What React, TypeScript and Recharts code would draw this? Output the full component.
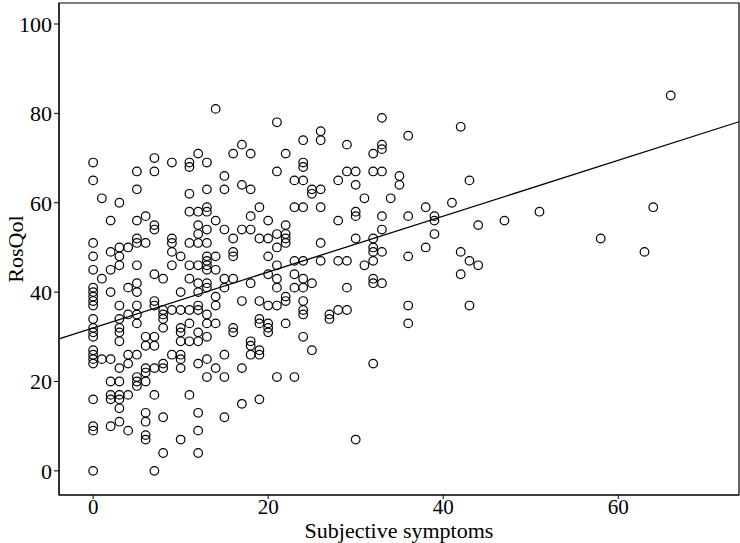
import React from "react";
import {
  ScatterChart, Scatter, XAxis, YAxis, ReferenceLine, ReferenceArea,
} from "recharts";

// subjective symptom score (x) and the RosQol values seen at that score
const scores = [
  0, 1, 2, 3, 4, 5, 6, 7, 8, 9, 10, 11, 12, 13, 14, 15, 16, 17, 18, 19, 20,
  21, 22, 23, 24, 25, 26, 27, 28, 29, 30, 31, 32, 33, 34, 35, 36, 38, 39, 41,
  42, 43, 44, 47, 51, 58, 63, 64, 66,
];
const rosqolByScore = [
  [69, 65, 51, 48, 45, 41, 40, 39, 38, 37, 34, 32, 31, 30, 27, 26, 25, 24, 16, 10, 9, 0],
  [61, 43, 25],
  [56, 49, 45, 40, 25, 20, 17, 16, 10],
  [60, 50, 48, 46, 37, 34, 32, 31, 29, 23, 20, 17, 16, 14, 11],
  [50, 41, 35, 26, 24, 17, 9],
  [67, 63, 56, 52, 51, 46, 42, 40, 37, 35, 33, 26, 21, 20, 19],
  [57, 51, 30, 28, 23, 22, 20, 13, 11, 8, 7],
  [70, 67, 55, 54, 44, 38, 37, 30, 28, 23, 17, 0],
  [43, 36, 35, 34, 32, 24, 23, 12, 4],
  [69, 52, 51, 49, 46, 36, 26],
  [48, 40, 36, 32, 31, 29, 26, 25, 23, 7],
  [69, 68, 62, 58, 51, 46, 43, 36, 33, 29, 17],
  [71, 58, 55, 53, 51, 46, 42, 40, 37, 36, 31, 29, 24, 13, 9, 4],
  [69, 63, 59, 58, 54, 51, 48, 47, 46, 45, 42, 41, 35, 33, 30, 25, 21],
  [81, 56, 48, 45, 39, 37, 33, 23],
  [66, 63, 54, 43, 41, 26, 21, 12],
  [71, 52, 49, 48, 43, 32, 31],
  [73, 64, 54, 38, 23, 15],
  [71, 63, 57, 54, 42, 29, 28, 26],
  [59, 52, 38, 34, 33, 27, 26, 16],
  [56, 52, 48, 44, 37, 33, 32, 31],
  [78, 67, 53, 50, 46, 43, 41, 37, 21],
  [71, 55, 53, 52, 51, 39, 38, 33],
  [65, 59, 47, 44, 41, 21],
  [74, 69, 68, 65, 59, 47, 43, 41, 38, 36, 35, 30],
  [63, 62, 42, 27],
  [76, 74, 63, 59, 51, 47],
  [35, 34],
  [65, 56, 47, 36],
  [73, 67, 47, 41, 36],
  [67, 64, 58, 57, 52, 7],
  [61, 46],
  [71, 67, 52, 50, 49, 47, 43, 42, 24],
  [79, 73, 72, 67, 57, 54, 49, 42],
  [61],
  [66, 64],
  [75, 57, 48, 37, 33],
  [59, 50],
  [57, 56, 53],
  [60],
  [77, 49, 44],
  [65, 47, 37],
  [55, 46],
  [56],
  [58],
  [52],
  [49],
  [59],
  [84],
];

const xTicks = [0, 20, 40, 60];
const yTicks = [0, 20, 40, 60, 80, 100];
const xDomain = [-3.9, 73.8];
const yDomain = [-5.4, 104.7];
// fit line
const fitIntercept = 32;
const fitSlope = 0.625;

const points = scores.flatMap((s, i) => rosqolByScore[i].map((v) => ({ x: s, y: v })));

const FONT = "Liberation Serif, serif";
const tickFont = { fill: "#000", fontSize: 22, fontFamily: FONT };

const Ring = (props: any) => {
  const { cx, cy } = props;
  if (cx == null || cy == null) return null;
  return <circle cx={cx} cy={cy} r={4.3} fill="none" stroke="#000" strokeWidth={1.2} />;
};

const xTitle = () => (
  <text x={399} y={538} textAnchor="middle" fontSize={22} fontFamily={FONT} fill="#000">
    Subjective symptoms
  </text>
);

const yTitle = () => (
  <text
    x={15} y={249} textAnchor="middle" dominantBaseline="central"
    transform="rotate(-90 15 249)" fontSize={22} fontFamily={FONT} fill="#000"
  >
    RosQol
  </text>
);

export default function App() {
  return (
    <div style={{ position: "absolute", left: 0, top: 0, background: "#fff" }}>
      <ScatterChart width={740} height={543} margin={{ top: 3, right: 1, bottom: 0, left: 0 }}>
        <XAxis
          type="number"
          dataKey="x"
          domain={xDomain}
          ticks={xTicks}
          allowDataOverflow
          height={48}
          tickSize={4}
          tickMargin={0}
          tick={{ ...tickFont, fontSize: 21 }}
          stroke="#000"
          label={xTitle}
        />
        <YAxis
          type="number"
          dataKey="y"
          domain={yDomain}
          ticks={yTicks}
          allowDataOverflow
          width={59}
          tickSize={5}
          tick={tickFont}
          stroke="#000"
          label={yTitle}
        />
        <ReferenceArea
          x1={xDomain[0]} x2={xDomain[1]} y1={yDomain[0]} y2={yDomain[1]}
          fill="none" stroke="#000" strokeWidth={1.2} ifOverflow="visible"
        />
        <Scatter data={points} shape={<Ring />} isAnimationActive={false} />
        <ReferenceLine
          segment={[
            { x: xDomain[0], y: fitIntercept + fitSlope * xDomain[0] },
            { x: xDomain[1], y: fitIntercept + fitSlope * xDomain[1] },
          ]}
          stroke="#000"
          strokeWidth={1.3}
          ifOverflow="visible"
        />
      </ScatterChart>
    </div>
  );
}
